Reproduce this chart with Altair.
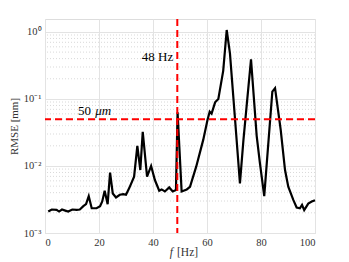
import altair as alt
import pandas as pd

# Frequency (Hz) and RMSE (mm)
freq = [1.2, 2.5, 4.3, 5.2, 6.3, 7.5, 8.6, 10.1, 11.7, 12.9,
        14.2, 15.2, 16.2, 17.3, 19.1, 20.4, 21.2, 22.1, 23.2, 24.1,
        25.1, 26.3, 27.7, 29, 30, 31.2, 33, 34.2, 35.3, 36.2,
        37.8, 39.3, 40.7, 42.3, 43.2, 44.4, 46, 47.3, 48.5, 49.1,
        50.6, 52.5, 53.7, 56, 58.6, 60.2, 61, 61.7, 63, 64.2,
        66, 67.3, 68.5, 70.4, 72.2, 73.5, 76.3, 78.4, 79.6, 81.2,
        83.1, 84.2, 85.2, 87.3, 88.9, 90.1, 92, 93.2, 94.4, 95.2,
        96, 97.5, 98.8, 100]
rmse = [0.00209, 0.00224, 0.00221, 0.00209, 0.00224, 0.00216, 0.00209, 0.00224, 0.00221, 0.00224,
        0.00251, 0.00269, 0.00355, 0.00234, 0.00234, 0.00251, 0.00295, 0.00427, 0.00269, 0.00794,
        0.00389, 0.00339, 0.00372, 0.00380, 0.00372, 0.00468, 0.00692, 0.0200, 0.00871, 0.0324,
        0.00692, 0.0100, 0.00617, 0.00427, 0.00447, 0.00417, 0.00479, 0.00417, 0.00437, 0.0631,
        0.00417, 0.00447, 0.00490, 0.00977, 0.0245, 0.0490, 0.0646, 0.0603, 0.0891, 0.100,
        0.263, 1.07, 0.479, 0.0490, 0.00550, 0.0245, 0.389, 0.0282, 0.0110, 0.00355,
        0.0347, 0.129, 0.145, 0.0347, 0.00871, 0.00490, 0.00309, 0.00240, 0.00234, 0.00263,
        0.00219, 0.00275, 0.00295, 0.00309]

threshold_mm = [0.05]
marker_hz = [49]
major_y = [0.001, 0.01, 0.1, 1]
minor_y = [0.002, 0.003, 0.004, 0.005, 0.006, 0.007, 0.008, 0.009,
           0.02, 0.03, 0.04, 0.05, 0.06, 0.07, 0.08, 0.09,
           0.2, 0.3, 0.4, 0.5, 0.6, 0.7, 0.8, 0.9]
x_ticks = list(range(0, 101, 10))

FONT = "Liberation Serif"
W, H = 270, 214

df = pd.DataFrame({"f": freq, "rmse": rmse})

xscale = alt.Scale(domain=[0, 100], nice=False)
yscale = alt.Scale(type="log", domain=[0.001, 1.56], nice=False)

xaxis = alt.Axis(values=x_ticks, title=None, grid=True, gridColor="#e3e3e3",
                 labelFont=FONT, labelFontSize=10.5, labelColor="#333",
                 domain=False, ticks=False, labelPadding=4)
yaxis = alt.Axis(values=major_y, title="RMSE [mm]", grid=True, gridColor="#e3e3e3",
                 labelFont=FONT, labelFontSize=10.5, labelColor="#333",
                 labelExpr="datum.value >= 1 ? '10⁰' : datum.value >= 0.1 ? '10⁻¹' : datum.value >= 0.01 ? '10⁻²' : '10⁻³'",
                 titleFont=FONT, titleFontSize=11, titleFontWeight="normal", titleColor="#333",
                 titlePadding=4, domain=False, ticks=False, labelPadding=4)

minor = alt.Chart(pd.DataFrame({"v": minor_y})).mark_rule(
    color="#cfcfcf", strokeDash=[1, 2], strokeWidth=0.8
).encode(y=alt.Y("v:Q", scale=yscale, axis=yaxis))

line = alt.Chart(df).mark_line(color="black", strokeWidth=2.2).encode(
    x=alt.X("f:Q", scale=xscale, axis=xaxis),
    y=alt.Y("rmse:Q", scale=yscale, axis=yaxis),
)

hrule = alt.Chart(pd.DataFrame({"v": threshold_mm})).mark_rule(
    color="#ff0000", strokeDash=[7, 4], strokeWidth=2
).encode(y=alt.Y("v:Q", scale=yscale))

vrule = alt.Chart(pd.DataFrame({"v": marker_hz})).mark_rule(
    color="#ff0000", strokeDash=[7, 4], strokeWidth=2
).encode(x=alt.X("v:Q", scale=xscale))

lab48 = alt.Chart(pd.DataFrame({"f": [47.5], "y": [0.42], "t": ["48 Hz"]})).mark_text(
    font=FONT, fontSize=13, align="right", baseline="middle", color="black"
).encode(x=alt.X("f:Q", scale=xscale), y=alt.Y("y:Q", scale=yscale), text="t:N")

lab50a = alt.Chart(pd.DataFrame({"f": [12.2], "y": [0.066], "t": ["50"]})).mark_text(
    font=FONT, fontSize=13, align="left", baseline="middle", color="black"
).encode(x=alt.X("f:Q", scale=xscale), y=alt.Y("y:Q", scale=yscale), text="t:N")
lab50b = alt.Chart(pd.DataFrame({"f": [18.6], "y": [0.066], "t": ["μm"]})).mark_text(
    font=FONT, fontSize=13, align="left", baseline="middle", color="black", fontStyle="italic"
).encode(x=alt.X("f:Q", scale=xscale), y=alt.Y("y:Q", scale=yscale), text="t:N")

xt_f = alt.Chart(pd.DataFrame({"t": ["f"]})).mark_text(
    font=FONT, fontSize=11.5, fontStyle="italic", align="right", baseline="middle", color="#333"
).encode(x=alt.value(128), y=alt.value(H + 20), text="t:N")
xt_hz = alt.Chart(pd.DataFrame({"t": ["[Hz]"]})).mark_text(
    font=FONT, fontSize=11.5, align="left", baseline="middle", color="#333"
).encode(x=alt.value(132), y=alt.value(H + 20), text="t:N")

chart = alt.layer(minor, line, hrule, vrule, lab48, lab50a, lab50b, xt_f, xt_hz).properties(
    width=W, height=H,
    autosize=alt.AutoSizeParams(type="none"),
    padding={"left": 37, "top": 11, "right": 20, "bottom": 30},
).configure_view(stroke="#666", strokeWidth=1).configure(background="white")

chart.save("out.html", embed_options={"renderer": "svg", "actions": False})
